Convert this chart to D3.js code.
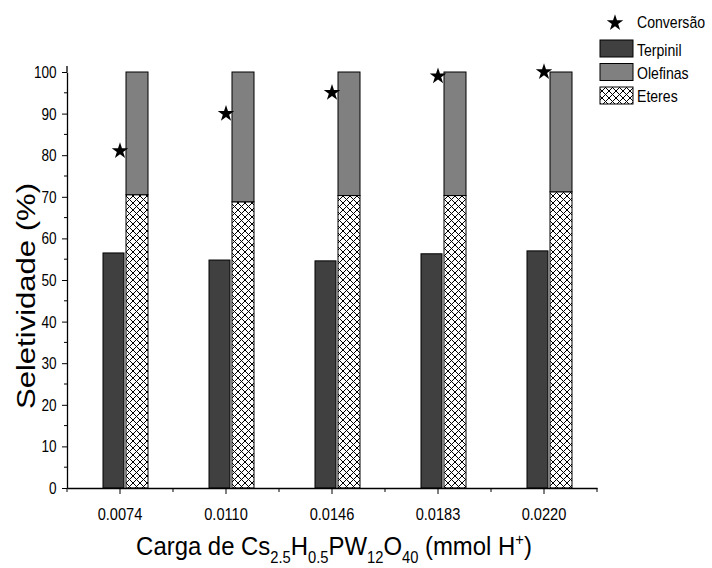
<!DOCTYPE html>
<html>
<head>
<meta charset="utf-8">
<script src="https://cdn.jsdelivr.net/npm/d3@7"></script>
<style>
  body { margin: 0; background: #fff; }
  text { font-family: "Liberation Sans", Arial, sans-serif; }
</style>
</head>
<body>
<svg width="712" height="568"></svg>
<script>
// data
let cargas = ["0.0074", "0.0110", "0.0146", "0.0183", "0.0220"];
let terpinil = [56.5, 54.8, 54.6, 56.3, 57.0];
let eteres = [70.5, 68.8, 70.3, 70.3, 71.2];
let olefinasTopo = [100, 100, 100, 100, 100];
let conversao = [81, 90, 95, 99, 100];
let yTicks = [0, 10, 20, 30, 40, 50, 60, 70, 80, 90, 100];

let svg = d3.select("svg");

let x = d3.scaleBand().domain(cargas).range([67, 597]);
let y = d3.scaleLinear().domain([0, 100]).range([488, 72]);

// hatch pattern for eteres
let defs = svg.append("defs");
let pat = defs.append("pattern")
  .attr("id", "hatch")
  .attr("patternUnits", "userSpaceOnUse")
  .attr("width", 7).attr("height", 7);
pat.append("rect").attr("width", 7).attr("height", 7).attr("fill", "#fff");
pat.append("path").attr("d", "M0,0 L7,7 M7,0 L0,7")
  .attr("stroke", "#000").attr("stroke-width", 1);

let idx = d3.range(cargas.length);

// terpinil bars
svg.selectAll(".terp").data(idx).enter().append("rect")
  .attr("x", i => x(cargas[i]) + x.bandwidth() / 2 - 17)
  .attr("width", 21)
  .attr("y", i => y(terpinil[i]))
  .attr("height", i => y(0) - y(terpinil[i]))
  .attr("fill", "#404040").attr("stroke", "#000").attr("stroke-width", 1);

// eteres (bottom of stack)
svg.selectAll(".eter").data(idx).enter().append("rect")
  .attr("x", i => x(cargas[i]) + x.bandwidth() / 2 + 6)
  .attr("width", 22)
  .attr("y", i => y(eteres[i]))
  .attr("height", i => y(0) - y(eteres[i]))
  .attr("fill", "url(#hatch)").attr("stroke", "#000").attr("stroke-width", 1);

// olefinas (top of stack)
svg.selectAll(".olef").data(idx).enter().append("rect")
  .attr("x", i => x(cargas[i]) + x.bandwidth() / 2 + 6)
  .attr("width", 22)
  .attr("y", i => y(olefinasTopo[i]))
  .attr("height", i => y(eteres[i]) - y(olefinasTopo[i]))
  .attr("fill", "#808080").attr("stroke", "#000").attr("stroke-width", 1);

// conversao stars
let star = d3.symbol().type(d3.symbolStar).size(85);
svg.selectAll(".star").data(idx).enter().append("path")
  .attr("d", star)
  .attr("transform", i => `translate(${x(cargas[i]) + x.bandwidth() / 2},${y(conversao[i])})`)
  .attr("fill", "#000");

// y axis
let yAxis = svg.append("g").attr("transform", "translate(67,0)")
  .call(d3.axisLeft(y).tickValues(yTicks).tickSize(5).tickSizeOuter(0).tickPadding(8).tickFormat(d3.format("d")));
yAxis.append("g").selectAll("line").data(d3.range(5, 100, 10)).enter().append("line")
  .attr("x1", -3).attr("x2", 0)
  .attr("y1", d => y(d)).attr("y2", d => y(d))
  .attr("stroke", "#000");
yAxis.append("line").attr("x1", 0).attr("x2", 0).attr("y1", 66).attr("y2", 72).attr("stroke", "#000").attr("stroke-width", 1.3);

// x axis
let xAxis = svg.append("g").attr("transform", "translate(0,488)")
  .call(d3.axisBottom(x).tickSize(6).tickSizeOuter(0).tickPadding(14));
xAxis.append("g").selectAll("line").data(d3.range(cargas.length + 1)).enter().append("line")
  .attr("x1", i => 67 + i * x.step()).attr("x2", i => 67 + i * x.step())
  .attr("y1", 0).attr("y2", 4)
  .attr("stroke", "#000");

svg.selectAll(".domain").attr("stroke", "#000").attr("stroke-width", 1.3);
svg.selectAll(".tick text").attr("font-size", 17)
  .attr("font-family", "'Liberation Sans', Arial, sans-serif")
  .attr("fill", "#000");
yAxis.selectAll(".tick text").attr("transform", "scale(0.8,1)");
xAxis.selectAll(".tick text").attr("transform", "scale(0.86,1)");

// axis titles
svg.append("text")
  .attr("transform", "translate(35,296) rotate(-90)")
  .attr("text-anchor", "middle")
  .attr("font-size", 26)
  .attr("textLength", 226).attr("lengthAdjust", "spacingAndGlyphs")
  .text("Seletividade (%)");

let xt = svg.append("text")
  .attr("transform", "translate(334,555) scale(0.92,1)")
  .attr("text-anchor", "middle")
  .attr("font-size", 26);
xt.append("tspan").text("Carga de Cs");
xt.append("tspan").attr("font-size", 16).attr("dy", 8).text("2.5");
xt.append("tspan").attr("dy", -8).text("H");
xt.append("tspan").attr("font-size", 16).attr("dy", 8).text("0.5");
xt.append("tspan").attr("dy", -8).text("PW");
xt.append("tspan").attr("font-size", 16).attr("dy", 8).text("12");
xt.append("tspan").attr("dy", -8).text("O");
xt.append("tspan").attr("font-size", 16).attr("dy", 8).text("40");
xt.append("tspan").attr("dy", -8).text(" (mmol H");
xt.append("tspan").attr("font-size", 16).attr("dy", -10).text("+");
xt.append("tspan").attr("dy", 10).text(")");

// legend
let legendNames = ["Terpinil", "Olefinas", "Eteres"];
let legendFills = ["#404040", "#808080", "url(#hatch)"];
let lg = svg.append("g");
lg.append("path").attr("d", star).attr("transform", "translate(615,23)").attr("fill", "#000");
lg.append("text").attr("transform", "translate(637,28) scale(0.88,1)").attr("font-size", 16).text("Conversão");
lg.selectAll(".lr").data(legendNames).enter().append("rect")
  .attr("x", 600).attr("y", (d, i) => 40 + i * 23.5)
  .attr("width", 33).attr("height", 17)
  .attr("fill", (d, i) => legendFills[i]).attr("stroke", "#000");
lg.selectAll(".lt").data(legendNames).enter().append("text")
  .attr("transform", (d, i) => `translate(637,${56 + i * 23}) scale(0.88,1)`)
  .attr("font-size", 16).text(d => d);
</script>
</body>
</html>
